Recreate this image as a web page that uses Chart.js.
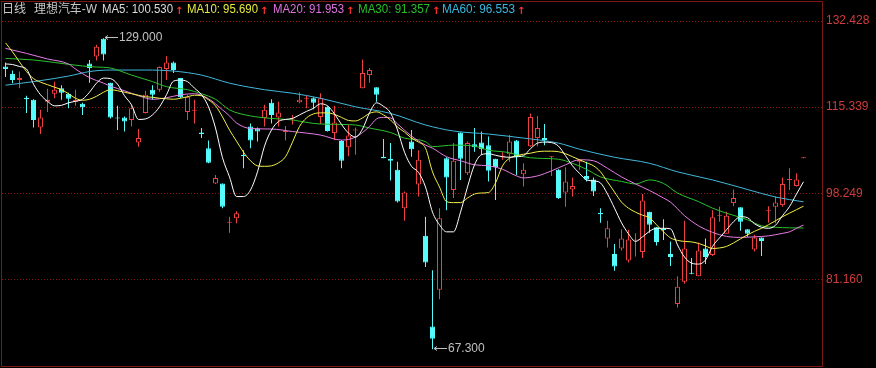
<!DOCTYPE html>
<html>
<head>
<meta charset="utf-8">
<title>理想汽车-W 日线</title>
<script src="https://cdn.jsdelivr.net/npm/chart.js@4.4.1/dist/chart.umd.min.js"></script>
<style>
  html, body { margin: 0; padding: 0; background: #000; }
  #wrap { width: 876px; height: 368px; }
</style>
</head>
<body>
<div id="wrap"><canvas id="kline" width="876" height="368"></canvas></div>
<script>
// weekly candles (115 bars, 2 empty slots at the right edge)
const opens = [123.4,121.9,120.7,117.2,116.8,111.3,116.4,118.0,119.1,118.0,
  116.4,116.0,124.0,125.4,128.9,120.2,113.3,113.3,112.8,108.3,
  114.2,118.8,118.8,122.9,124.2,121.1,114.4,114.6,110.3,107.2,
  100.2,100.2,92.4,93.3,105.9,111.5,111.1,113.2,116.2,113.3,
  110.4,112.9,116.3,117.0,117.1,113.4,115.4,110.2,108.6,107.4,
  110.7,119.1,121.7,119.3,105.5,105.1,102.9,95.3,108.5,100.0,
  89.8,71.8,79.1,105.2,98.9,110.3,102.2,108.0,108.3,107.8,
  105.1,105.5,106.0,108.7,102.0,107.6,109.2,109.2,105.4,102.9,
  98.4,99.0,104.5,101.7,101.0,94.4,89.3,86.2,87.3,84.9,
  88.9,86.6,94.6,91.5,91.2,86.2,76.3,80.7,82.5,81.8,
  87.3,86.0,93.8,90.2,96.3,95.5,91.1,87.1,89.5,94.7,
  95.6,95.9,100.9,99.7,105.2];
const highs = [124.2,122.6,122.4,117.6,116.9,114.8,119.0,120.4,119.7,118.2,
  118.8,116.2,124.7,127.7,129.0,120.2,115.6,113.5,115.8,111.0,
  118.6,119.7,123.4,125.5,124.4,121.1,117.8,116.8,111.2,108.7,
  101.9,100.2,93.6,94.7,106.8,112.1,111.3,115.8,116.9,116.4,
  111.6,113.8,118.3,117.6,117.3,118.1,115.5,115.6,108.8,111.8,
  111.3,124.8,123.1,119.3,109.0,108.2,104.5,98.6,110.8,106.8,
  93.6,83.0,95.3,105.4,108.2,110.3,108.5,111.2,110.5,109.5,
  105.1,106.4,109.8,108.8,104.2,114.1,113.6,112.0,105.6,103.0,
  103.4,101.4,105.0,104.5,101.4,95.3,92.8,88.2,91.1,91.0,
  90.3,98.1,94.6,91.5,93.1,88.7,81.8,92.8,85.4,88.5,
  89.3,94.9,95.6,94.6,99.0,95.5,91.1,90.0,89.5,95.7,
  97.6,101.4,103.2,102.2,105.2];
const lows = [121.3,120.1,119.1,114.2,111.3,110.0,114.4,117.1,116.8,115.1,
  115.6,113.8,120.2,124.6,124.6,113.1,110.8,110.5,111.5,107.5,
  114.1,116.8,118.4,120.7,122.1,117.1,112.8,112.1,109.2,104.2,
  100.1,95.3,90.4,92.3,103.2,107.2,108.5,111.5,112.1,111.5,
  108.7,111.9,116.1,115.1,114.9,112.0,110.5,108.8,103.2,105.6,
  105.9,119.1,120.2,116.4,105.2,100.8,96.4,92.8,105.5,97.6,
  83.6,67.3,77.2,94.9,97.3,100.9,101.9,106.5,105.9,100.6,
  96.9,104.9,104.5,101.9,99.6,107.5,107.6,107.8,101.7,97.1,
  95.6,97.6,102.9,100.6,97.7,92.4,87.5,82.9,86.9,84.5,
  85.7,85.4,90.4,87.9,89.0,83.8,75.6,80.3,82.2,81.8,
  84.2,85.8,92.6,90.2,95.7,90.8,89.6,86.7,85.8,92.4,
  92.3,95.6,98.9,99.6,105.2];
const closes = [122.9,120.7,121.1,116.9,112.8,113.3,116.8,118.8,118.2,117.0,
  116.8,115.3,123.1,127.3,125.8,113.3,113.1,112.5,115.1,109.2,
  117.8,117.8,123.3,124.2,122.7,117.3,117.4,114.8,110.0,104.3,
  101.3,95.6,92.6,94.3,105.6,108.7,110.5,114.8,113.8,114.3,
  110.5,113.0,116.8,117.1,116.2,117.1,110.6,112.3,104.7,109.7,
  110.8,122.1,122.7,117.8,105.2,104.7,96.6,98.4,107.0,104.9,
  84.5,69.4,93.3,101.4,104.7,105.1,108.2,107.4,107.0,102.7,
  103.4,105.7,108.5,105.5,102.9,113.4,111.2,108.8,105.5,97.3,
  100.6,99.7,104.9,101.0,98.6,94.1,91.3,83.7,89.3,89.1,
  89.0,96.8,92.0,88.6,90.9,85.6,79.7,87.3,82.3,86.9,
  85.6,93.5,94.0,93.8,97.3,92.6,90.2,89.5,88.8,94.8,
  96.4,100.1,101.0,101.0,105.2];

// moving averages as drawn in the picture
const ma5 = [123.9,123.8,123.4,122.9,119.9,117.8,116.5,115.6,115.7,116.2,
  116.5,116.9,118.3,120.1,121.1,121.0,119.9,117.6,115.8,112.9,
  113.0,113.8,115.4,117.8,120.5,120.7,120.4,119.1,117.8,115.4,
  111.2,105.3,101.5,97.6,97.6,98.9,102.5,107.6,110.8,112.5,
  112.9,113.1,113.8,114.5,115.1,116.0,115.6,114.0,111.9,110.2,
  109.4,111.0,114.2,116.2,115.5,114.2,110.8,106.4,103.6,102.4,
  99.5,94.5,92.0,90.6,90.6,94.5,99.5,103.9,105.9,106.1,
  105.8,105.5,105.4,105.5,105.7,107.1,108.2,108.4,108.3,107.6,
  105.7,103.7,102.2,100.9,100.7,100.3,98.1,95.3,92.4,90.2,
  88.7,89.6,90.7,91.3,91.3,91.2,88.0,85.6,84.4,84.2,
  85.0,87.7,89.4,91.0,92.6,93.6,93.4,92.2,91.5,91.3,
  91.9,93.8,95.6,98.1,100.530];
const ma10 = [128.1,126.3,124.3,122.4,121.0,120.3,119.8,119.3,118.8,118.0,
  117.1,116.7,116.9,117.5,118.3,118.8,118.6,118.3,118.0,117.7,
  117.4,117.3,117.1,117.0,116.9,117.1,117.4,117.7,117.6,116.8,
  115.6,113.4,110.8,108.6,106.4,104.7,103.7,103.6,103.7,104.3,
  105.5,108.4,111.5,113.2,114.0,114.2,114.2,113.9,113.3,112.7,
  112.6,113.2,114.1,114.4,113.8,112.8,111.4,110.4,109.2,108.4,
  107.2,102.5,99.5,96.6,96.4,96.4,97.3,98.1,98.3,98.4,
  100.3,103.7,105.2,105.7,106.0,106.2,106.5,106.6,106.6,106.5,
  106.1,105.5,104.9,104.3,103.7,102.5,100.5,98.5,96.5,95.3,
  94.5,93.9,93.4,92.0,90.6,89.4,88.9,88.7,88.6,88.3,
  87.8,87.3,87.4,87.7,88.4,89.2,90.0,90.7,91.3,92.0,
  92.8,93.6,94.3,95.0,95.690];
// slower averages read at fewer bars: [bar index, value]
const ma20Pts = [[0,127.0],[3,126.0],[6,124.9],[9,123.9],[10,122.9],[12,121.2],[14,120.1],[15,119.5],
  [17,118.6],[19,117.6],[21,116.9],[23,117.2],[25,117.8],[27,118.0],[29,117.0],[31,114.8],[32,113.6],
  [33,112.2],[35,111.1],[38,111.0],[41,110.5],[45,109.8],[48,108.8],[50,109.4],[52,111.5],[53,113.0],
  [54,113.3],[55,113.2],[56,112.0],[58,109.6],[60,107.8],[61,107.2],[63,105.5],[65,104.7],[67,103.9],
  [69,103.7],[71,103.0],[73,101.7],[74,101.3],[76,101.7],[78,102.7],[80,103.9],[82,104.9],[84,104.7],
  [86,103.2],[88,101.5],[90,100.1],[92,98.8],[94,97.3],[95,96.5],[97,93.8],[99,91.8],[101,90.5],
  [103,89.7],[105,89.5],[107,89.6],[109,89.8],[111,90.3],[112,90.6],[113,91.3],[114,91.953]];
const ma30Pts = [[0,125.0],[4,124.7],[7,124.2],[11,123.5],[13,123.3],[15,123.1],[18,121.7],[21,120.4],
  [23,119.4],[26,118.8],[28,118.0],[30,116.9],[32,114.8],[35,113.6],[38,113.1],[41,112.8],[44,112.1],
  [48,111.9],[50,111.8],[52,111.2],[55,110.3],[57,109.2],[60,108.5],[61,107.5],[64,107.8],[67,107.6],
  [69,106.8],[72,106.3],[74,105.5],[76,105.2],[79,105.0],[81,104.2],[83,103.0],[85,101.5],[88,100.6],
  [90,100.1],[92,100.9],[94,100.2],[96,98.3],[99,96.6],[101,95.3],[103,94.3],[106,93.0],[108,91.8],
  [110,91.5],[112,91.4],[114,91.357]];
const ma60Pts = [[0,119.7],[4,120.4],[9,121.5],[12,122.4],[15,122.7],[20,122.7],[24,122.5],[28,121.7],
  [32,120.1],[37,118.8],[41,118.1],[45,117.1],[50,115.4],[55,114.1],[60,111.8],[64,110.6],[69,110.0],
  [74,109.2],[79,108.2],[82,107.0],[87,105.4],[92,104.2],[96,102.5],[101,100.9],[106,99.0],[110,97.5],
  [114,96.553]];

const priceTicks = [81.160, 98.249, 115.339, 132.428];
const Y_MIN = 63.98, Y_MAX = 136.2;
const SLOTS = 117;

const UP = '#ee4040', DOWN = '#54fcfc';
const FONT = '"Liberation Sans", Arial, "Noto Sans CJK SC", sans-serif';

const weekLabels = Array.from({length: SLOTS}, (_, i) => 'W' + (i + 1));
const isUp = opens.map((o, i) => closes[i] >= o);

function sparse(pts) {
  const arr = new Array(opens.length).fill(null);
  pts.forEach(([i, v]) => { arr[i] = v; });
  return arr;
}

const maLines = [
  { name: 'MA5',  data: ma5,             color: '#ffffff', text: '#dcdcdc' },
  { name: 'MA10', data: ma10,            color: '#f0f048', text: '#e8e840' },
  { name: 'MA20', data: sparse(ma20Pts), color: '#e67ce6', text: '#e070e0' },
  { name: 'MA30', data: sparse(ma30Pts), color: '#2cc02c', text: '#28c028' },
  { name: 'MA60', data: sparse(ma60Pts), color: '#40b8dc', text: '#38b8e0' }
];
// header slots: left edge and width of each "MAx: value" text
const headerX = [102, 187, 273, 358, 442];
const headerW = [71, 71, 71, 72, 73];

const decor = {
  id: 'decor',
  beforeDraw(chart) {
    const ctx = chart.ctx;
    ctx.save();
    ctx.fillStyle = '#000';
    ctx.fillRect(0, 0, chart.width, chart.height);
    ctx.restore();
  },
  beforeDatasetsDraw(chart) {
    const { ctx, chartArea: a } = chart;
    const y = chart.scales.y;
    ctx.save();
    ctx.lineWidth = 1;
    ctx.strokeStyle = '#8c1414';
    ctx.setLineDash([1, 2]);
    priceTicks.forEach(v => {
      const py = Math.round(y.getPixelForValue(v)) + 0.5;
      ctx.beginPath();
      ctx.moveTo(a.left, py);
      ctx.lineTo(a.right + 2, py);
      ctx.stroke();
    });
    ctx.setLineDash([]);
    ctx.strokeStyle = '#7a1616';
    ctx.strokeRect(a.left - 0.5, a.top - 0.5, a.right - a.left + 2, a.bottom - a.top + 1);
    ctx.restore();
  },
  afterDatasetsDraw(chart) {
    const ctx = chart.ctx;
    const xs = chart.scales.x, ys = chart.scales.y;
    ctx.save();
    ctx.textBaseline = 'middle';
    ctx.font = '12px ' + FONT;

    // header line
    const ty = 10;
    ctx.fillStyle = '#c8c8c8';
    ctx.fillText('日线', 2, ty);
    ctx.fillText('理想汽车-W', 34, ty, 63);
    maLines.forEach((m, i) => {
      const last = m.data[m.data.length - 1];
      const txt = m.name + ': ' + last.toFixed(3);
      ctx.font = '12px ' + FONT;
      ctx.fillStyle = m.text;
      ctx.fillText(txt, headerX[i], ty, headerW[i]);
      const ax = headerX[i] + Math.min(ctx.measureText(txt).width, headerW[i]) + 2;
      ctx.fillStyle = '#ff3030';
      ctx.font = 'bold 10px "DejaVu Sans", sans-serif';
      ctx.fillText('↑', ax, ty + 1);
    });

    // high / low tags
    const hiIdx = highs.indexOf(Math.max(...highs));
    const loIdx = lows.indexOf(Math.min(...lows));
    const tag = (idx, val) => {
      const px = Math.round(xs.getPixelForValue(idx));
      const py = Math.round(ys.getPixelForValue(val)) - 0.5;
      ctx.strokeStyle = '#c0c0c0';
      ctx.lineWidth = 1;
      ctx.beginPath();
      ctx.moveTo(px + 1, py);
      ctx.lineTo(px + 14, py);
      ctx.moveTo(px + 4, py - 2);
      ctx.lineTo(px + 1, py);
      ctx.lineTo(px + 4, py + 2);
      ctx.stroke();
      ctx.font = '12px ' + FONT;
      ctx.fillStyle = '#c0c0c0';
      ctx.fillText(val.toFixed(3), px + 15, py);
    };
    tag(hiIdx, highs[hiIdx]);
    tag(loIdx, lows[loIdx]);
    ctx.restore();
  }
};

const datasets = [
  {
    type: 'bar',
    label: 'wick',
    data: opens.map((_, i) => [lows[i], highs[i]]),
    backgroundColor: isUp.map(u => u ? UP : DOWN),
    borderWidth: 0,
    barThickness: 1,
    minBarLength: 1,
    inflateAmount: 0,
    grouped: false,
    order: 2
  },
  {
    type: 'bar',
    label: 'body',
    data: opens.map((o, i) => [o, closes[i]]),
    backgroundColor: isUp.map(u => u ? '#000000' : DOWN),
    borderColor: isUp.map(u => u ? UP : DOWN),
    borderWidth: 1,
    borderSkipped: false,
    barThickness: 5,
    minBarLength: 1,
    inflateAmount: 0,
    grouped: false,
    order: 1
  }
].concat(maLines.map(m => ({
  type: 'line',
  label: m.name,
  data: m.data,
  borderColor: m.color,
  borderWidth: 1,
  pointRadius: 0,
  tension: 0.4,
  cubicInterpolationMode: 'monotone',
  spanGaps: true,
  order: 0
})));

new Chart(document.getElementById('kline'), {
  type: 'bar',
  data: { labels: weekLabels, datasets },
  options: {
    responsive: false,
    animation: false,
    devicePixelRatio: 1,
    events: [],
    layout: { padding: { left: 2, right: 0, top: 2, bottom: 2 } },
    plugins: { legend: { display: false }, tooltip: { enabled: false } },
    scales: {
      x: { type: 'category', offset: true, display: false, grid: { display: false } },
      y: {
        position: 'right',
        min: Y_MIN,
        max: Y_MAX,
        afterBuildTicks: s => { s.ticks = priceTicks.map(v => ({ value: v })); },
        afterFit: s => { s.width = 55; s.paddingTop = 0; s.paddingBottom = 0; },
        grid: { display: false, drawTicks: false },
        border: { display: false },
        ticks: {
          color: '#d23c3c',
          padding: 5,
          font: { family: FONT, size: 12 },
          callback: v => Number(v).toFixed(3)
        }
      }
    }
  },
  plugins: [decor]
});
</script>
</body>
</html>
